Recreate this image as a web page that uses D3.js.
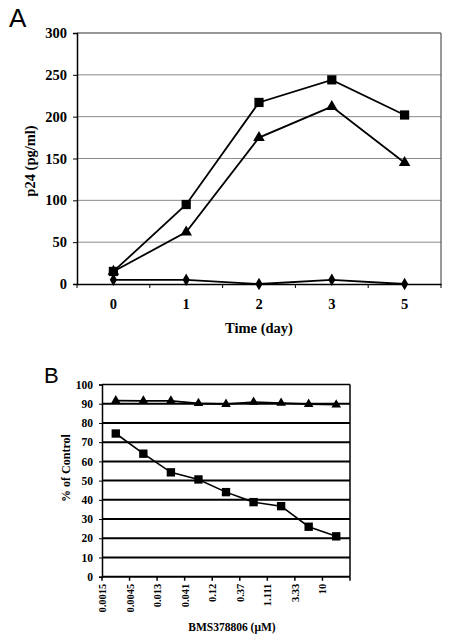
<!DOCTYPE html>
<html><head><meta charset="utf-8">
<script src="https://cdn.jsdelivr.net/npm/d3@7"></script>
<style>body{margin:0;background:#fff}svg{display:block}</style>
</head><body>
<svg id="c" width="449" height="640"></svg>
<script>
// Panel A data
const daysA = ["0","1","2","3","5"];
const squaresA = [15, 95, 217, 244, 202];
const trianglesA = [15, 62, 175, 212, 145];
const diamondsA = [5, 5, 0, 5, 0];
const yTicksA = [0, 50, 100, 150, 200, 250, 300];

// Panel B data
const concB = ["0.0015","0.0045","0.013","0.041","0.12","0.37","1.111","3.33","10"];
const squaresB = [74.5, 64, 54.3, 50.6, 44, 38.8, 36.7, 26, 21];
const trianglesB = [91.6, 91.5, 91.5, 90.2, 89.8, 90.9, 90.4, 89.8, 89.5];
const yTicksB = [0,10,20,30,40,50,60,70,80,90,100];

const svg = d3.select("#c");
const serif = "'Liberation Serif','Times New Roman',serif";
const sans = "'Liberation Sans',Arial,sans-serif";

function marker(type, size){
  const sym = type==="square"?d3.symbolSquare:type==="triangle"?d3.symbolTriangle:d3.symbolDiamond;
  return d3.symbol().type(sym).size(size)();
}

// ---------- Panel A ----------
{
  const L=77, R=441, T=33, B=284;
  const x = d3.scaleBand().domain(daysA).range([L,R]);
  const y = d3.scaleLinear().domain([0,300]).range([B,T]);
  const cx = d => x(d)+x.bandwidth()/2;
  const g = svg.append("g");
  g.selectAll(".grid").data(yTicksA.filter(v=>v>0 && v<300)).join("line")
    .attr("x1",L).attr("x2",R).attr("y1",d=>y(d)).attr("y2",d=>y(d))
    .attr("stroke","#8a8a8a").attr("stroke-width",1);
  g.append("line").attr("x1",L).attr("x2",R).attr("y1",y(300)).attr("y2",y(300)).attr("stroke","#333").attr("stroke-width",1.2);
  g.append("line").attr("x1",R).attr("x2",R).attr("y1",y(300)).attr("y2",y(0)).attr("stroke","#555").attr("stroke-width",1.2);
  const ya = g.append("g").attr("transform",`translate(${L},0)`)
    .call(d3.axisLeft(y).tickValues(yTicksA).tickSize(4).tickPadding(6));
  ya.select(".domain").attr("stroke","#000").attr("stroke-width",1.5);
  ya.selectAll("text").attr("font-family",serif).attr("font-weight","bold").attr("font-size",14.5).attr("fill","#000");
  const xa = g.append("g").attr("transform",`translate(0,${B})`)
    .call(d3.axisBottom(x).tickSize(0).tickPadding(15));
  xa.select(".domain").attr("stroke","#000").attr("stroke-width",1.5);
  xa.selectAll("text").attr("font-family",serif).attr("font-weight","bold").attr("font-size",14.5).attr("fill","#000");
  const bounds = daysA.map(d=>x(d)).concat([x(daysA[daysA.length-1])+x.step()]);
  g.selectAll(".bt").data(bounds).join("line")
    .attr("x1",d=>d).attr("x2",d=>d).attr("y1",B).attr("y2",B+4).attr("stroke","#000").attr("stroke-width",1);
  const line = d3.line().x((d,i)=>cx(daysA[i])).y(d=>y(d));
  [[squaresA,"square",85],[trianglesA,"triangle",58],[diamondsA,"diamond",45]].forEach(([vals,t,s])=>{
    g.append("path").attr("d",line(vals)).attr("fill","none").attr("stroke","#000").attr("stroke-width",1.8);
    g.selectAll(null).data(vals).join("path")
      .attr("transform",(d,i)=>`translate(${cx(daysA[i])},${y(d)})`)
      .attr("d",marker(t,s)).attr("fill","#000");
  });
  g.append("text").attr("x",(L+R)/2).attr("y",333).attr("text-anchor","middle")
    .attr("font-family",serif).attr("font-weight","bold").attr("font-size",14.5).text("Time (day)");
  g.append("text").attr("transform",`translate(35,161) rotate(-90)`).attr("text-anchor","middle")
    .attr("font-family",serif).attr("font-weight","bold").attr("font-size",14.5).text("p24 (pg/ml)");
  g.append("text").attr("x",9).attr("y",27).attr("font-family",sans).attr("font-size",26).text("A");
}

// ---------- Panel B ----------
{
  const L=102, R=350, T=384.5, B=576.7;
  const x = d3.scaleBand().domain(concB).range([L,R]);
  const y = d3.scaleLinear().domain([0,100]).range([B,T]);
  const cx = d => x(d)+x.bandwidth()/2;
  const g = svg.append("g");
  g.selectAll(".grid").data(yTicksB.filter(v=>v>0 && v<100)).join("line")
    .attr("x1",L).attr("x2",R).attr("y1",d=>y(d)).attr("y2",d=>y(d))
    .attr("stroke","#000").attr("stroke-width",2);
  g.append("line").attr("x1",L).attr("x2",R).attr("y1",y(100)).attr("y2",y(100)).attr("stroke","#000").attr("stroke-width",1.5);
  g.append("line").attr("x1",R).attr("x2",R).attr("y1",y(100)).attr("y2",y(0)).attr("stroke","#000").attr("stroke-width",1.5);
  const ya = g.append("g").attr("transform",`translate(${L},0)`)
    .call(d3.axisLeft(y).tickValues(yTicksB).tickSize(3).tickPadding(6));
  ya.select(".domain").attr("stroke","#000").attr("stroke-width",1.5);
  ya.selectAll("text").attr("font-family",serif).attr("font-weight","bold").attr("font-size",11.5).attr("fill","#000");
  const xa = g.append("g").attr("transform",`translate(0,${B})`);
  xa.append("line").attr("x1",L).attr("x2",R).attr("stroke","#000").attr("stroke-width",2);
  const bounds = concB.map(d=>x(d)).concat([R]);
  xa.selectAll(".bt").data(bounds).join("line")
    .attr("x1",d=>d).attr("x2",d=>d).attr("y1",0).attr("y2",4).attr("stroke","#000").attr("stroke-width",1.5);
  xa.selectAll(".lb").data(concB).join("text")
    .attr("transform",d=>`translate(${x(d)+4},7) rotate(-90)`).attr("text-anchor","end")
    .attr("font-family",serif).attr("font-weight","bold").attr("font-size",10.5).text(d=>d);
  const line = d3.line().x((d,i)=>cx(concB[i])).y(d=>y(d));
  [[trianglesB,"triangle",40],[squaresB,"square",70]].forEach(([vals,t,s])=>{
    g.append("path").attr("d",line(vals)).attr("fill","none").attr("stroke","#000").attr("stroke-width",1.6);
    g.selectAll(null).data(vals).join("path")
      .attr("transform",(d,i)=>`translate(${cx(concB[i])},${y(d)})`)
      .attr("d",marker(t,s)).attr("fill","#000");
  });
  g.append("text").attr("x",232).attr("y",631).attr("text-anchor","middle")
    .attr("font-family",serif).attr("font-weight","bold").attr("font-size",11.5).text("BMS378806 (\u03BCM)");
  g.append("text").attr("transform",`translate(70,468) rotate(-90)`).attr("text-anchor","middle")
    .attr("font-family",serif).attr("font-weight","bold").attr("font-size",12).text("% of Control");
  g.append("text").attr("x",44).attr("y",383).attr("font-family",sans).attr("font-size",22).text("B");
}
</script>
</body></html>
